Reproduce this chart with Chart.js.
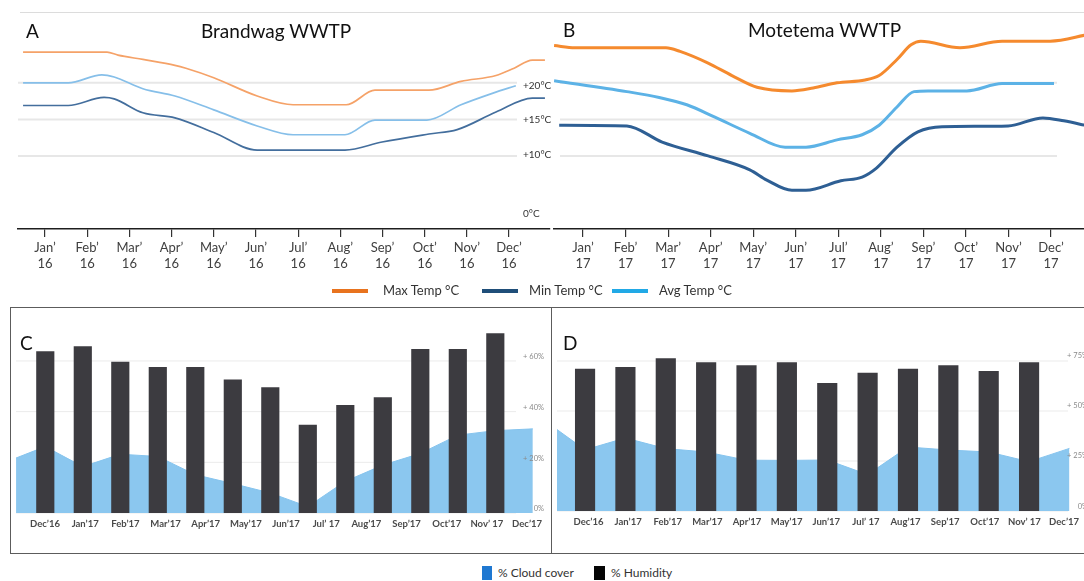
<!DOCTYPE html>
<html>
<head>
<meta charset="utf-8">
<title>WWTP climate 2016–2017</title>
<script src="https://cdn.jsdelivr.net/npm/chart.js@4.4.1/dist/chart.umd.min.js"></script>
<style>
  html, body { margin: 0; padding: 0; background: #fff; }
  #wrap { position: relative; width: 1084px; height: 581px; overflow: hidden;
          font-family: Lato, "Open Sans", sans-serif; color: #222; }
  #wrap canvas { position: absolute; }
  .abs { position: absolute; white-space: nowrap; line-height: 1; }
  .panel-id { font-size: 19px; color: #111; }
  .title { font-size: 19px; color: #111; }
  .leg { font-size: 13px; color: #333; }
  .leg2 { font-size: 12px; color: #333; }
  .box { position: absolute; border: 1px solid #5c5c5c; box-sizing: border-box; }
</style>
</head>
<body>
<div id="wrap">
  <div class="abs" style="left:20px;top:12px;width:1064px;height:1px;background:#dcdcdc"></div>

  <div class="box" style="left:10px;top:307px;width:542px;height:247px"></div>
  <div class="box" style="left:551px;top:307px;width:560px;height:247px"></div>

  <canvas id="chartA" width="560" height="300" style="left:0;top:0"></canvas>
  <canvas id="chartB" width="532" height="300" style="left:552px;top:0"></canvas>
  <canvas id="chartC" width="538" height="245" style="left:11px;top:308px"></canvas>
  <canvas id="chartD" width="532" height="245" style="left:552px;top:308px"></canvas>

  <div class="abs panel-id" style="left:26px;top:21px">A</div>
  <div class="abs title" style="left:201px;top:21px">Brandwag WWTP</div>
  <div class="abs panel-id" style="left:563px;top:20px">B</div>
  <div class="abs title" style="left:748px;top:20px">Motetema WWTP</div>
  <div class="abs panel-id" style="left:20px;top:333px">C</div>
  <div class="abs panel-id" style="left:563px;top:333px">D</div>

  <!-- temperature legend -->
  <div class="abs" style="left:332px;top:289px;width:36px;height:4px;background:#e8731e"></div>
  <div class="abs leg" style="left:383px;top:284px">Max Temp °C</div>
  <div class="abs" style="left:482px;top:289px;width:36px;height:4px;background:#1f4e79"></div>
  <div class="abs leg" style="left:529px;top:284px">Min Temp °C</div>
  <div class="abs" style="left:612px;top:289px;width:36px;height:4px;background:#21a9e6"></div>
  <div class="abs leg" style="left:659px;top:284px">Avg Temp °C</div>

  <!-- cloud / humidity legend -->
  <div class="abs" style="left:482px;top:566px;width:10px;height:14px;background:#1f78d1"></div>
  <div class="abs leg2" style="left:498px;top:567px">% Cloud cover</div>
  <div class="abs" style="left:594px;top:566px;width:11px;height:14px;background:#050505"></div>
  <div class="abs leg2" style="left:611px;top:567px">% Humidity</div>
</div>

<script>
// ---- month axis (temperature panels) ----
const MONTHS = ['Jan’', 'Feb’', 'Mar’', 'Apr’', 'May’', 'Jun’', 'Jul’', 'Aug’', 'Sep’', 'Oct’', 'Nov’', 'Dec’'];
const YEAR_BRANDWAG = '16';
const YEAR_MOTETEMA = '17';
const TEMP_TICKS = [0, 10, 15, 20];
const TEMP_TICK_LABELS = ['0°C', '+10°C', '+15°C', '+20°C'];

// ---- Brandwag 2016 temperatures: position in months (Jan = 1) and °C ----
const brandwagMaxAt = [0.48, 2.47, 2.73, 3.32, 4.08, 4.34, 5.0, 6.03, 6.88, 8.14, 8.82, 10.1, 10.86, 11.69, 12.12, 12.55, 12.85];
const brandwagMax   = [24.2, 24.2, 23.8, 23.2, 22.4, 22.0, 20.7, 18.2, 17.0, 17.0, 19.0, 19.0, 20.2, 21.0, 22.0, 23.1, 23.1];
const brandwagAvgAt = [0.48, 1.55, 2.35, 2.64, 3.32, 4.08, 5.0, 6.03, 6.88, 8.11, 8.82, 10.05, 10.86, 11.62, 12.16];
const brandwagAvg   = [20.0, 20.0, 21.1, 20.8, 19.2, 18.2, 16.3, 14.1, 12.9, 12.9, 14.9, 14.9, 17.0, 18.6, 19.6];
const brandwagMinAt = [0.48, 1.55, 2.40, 2.64, 3.32, 4.08, 5.0, 6.03, 8.11, 8.99, 10.1, 10.77, 11.69, 12.55, 12.85];
const brandwagMin   = [16.9, 16.9, 18.0, 17.8, 15.9, 15.2, 13.2, 10.8, 10.8, 11.9, 13.0, 13.6, 16.0, 17.9, 17.9];

// ---- Motetema 2017 temperatures ----
const motetemaMaxAt = [0.32, 0.81, 2.95, 3.28, 3.94, 4.5, 5.09, 5.91, 6.41, 6.97, 7.63, 7.96, 8.38, 8.71, 8.94, 9.86, 10.85, 11.98, 12.87];
const motetemaMax   = [25.1, 24.8, 24.8, 24.3, 22.7, 21.0, 19.4, 18.9, 19.3, 20.0, 20.4, 21.0, 23.2, 25.2, 25.7, 24.8, 25.7, 25.7, 26.6];
const motetemaAvgAt = [0.32, 2.03, 2.79, 3.44, 4.1, 4.92, 5.75, 6.24, 6.97, 7.56, 7.96, 8.38, 8.78, 9.11, 10.02, 10.85, 12.07];
const motetemaAvg   = [20.3, 18.8, 18.0, 17.0, 15.3, 13.1, 11.2, 11.2, 12.2, 12.9, 14.2, 16.7, 18.8, 18.9, 18.9, 19.9, 19.9];
const motetemaMinAt = [0.44, 2.03, 2.86, 3.94, 4.92, 5.32, 5.91, 6.24, 7.06, 7.56, 7.89, 8.38, 8.87, 9.44, 10.99, 11.81, 12.3, 12.87];
const motetemaMin   = [14.2, 14.1, 11.9, 10.0, 8.1, 6.7, 5.3, 5.3, 6.6, 7.1, 8.3, 11.2, 13.3, 14.0, 14.1, 15.2, 14.8, 14.1];

// ---- cloud cover / humidity, Dec 2016 – Dec 2017 ----
const CLOUD_LABELS = ['Dec’16', 'Jan’17', 'Feb’17', 'Mar’17', 'Apr’17', 'May’17', 'Jun’17', 'Jul’ 17', 'Aug’17', 'Sep’17', 'Oct’17', 'Nov’ 17', 'Dec’17'];
const brandwagHumidity = [63.7, 65.7, 59.6, 57.5, 57.5, 52.5, 49.5, 34.7, 42.5, 45.5, 64.6, 64.6, 70.8];
const brandwagCloudAt  = [-0.78, 0, 1, 2, 3, 4, 5, 6, 7, 8, 9, 10, 11, 12, 13];
const brandwagCloud    = [21.7, 26.2, 18.3, 23.2, 22.3, 15.1, 11.6, 7.9, 2.5, 12.5, 18.9, 23.5, 30.7, 32.5, 33.2];
const BRANDWAG_PCT_TICKS  = [0, 20, 40, 60];
const BRANDWAG_PCT_LABELS = ['0%', '+ 20%', '+ 40%', '+ 60%'];

const motetemaHumidity = [71.0, 71.8, 76.2, 74.2, 72.7, 74.2, 63.8, 69.0, 71.0, 72.7, 69.8, 74.2];
const motetemaCloudAt  = [-0.7, 0, 1, 2, 3, 4, 5, 6, 7, 8, 9, 10, 11, 12];
const motetemaCloud    = [40.8, 30.6, 36.5, 31.2, 29.5, 25.4, 25.3, 25.5, 18.2, 32.0, 30.5, 29.5, 24.65, 31.3];
const MOTETEMA_PCT_TICKS  = [0, 25, 50, 75];
const MOTETEMA_PCT_LABELS = ['0%', '+ 25%', '+ 50%', '+ 75%'];

const FONT = 'Lato, "Open Sans", sans-serif';
const pairs = (xs, ys) => xs.map((x, i) => ({ x, y: ys[i] }));

// Horizontal reference lines (behind the data) and their value labels (on top).
function guides(cfg) {
  return {
    id: 'guides',
    beforeDatasetsDraw(chart) {
      const { ctx } = chart, y = chart.scales.y;
      ctx.save();
      ctx.strokeStyle = cfg.lineColor;
      ctx.lineWidth = cfg.lineWidth;
      cfg.lineValues.forEach(v => {
        const py = y.getPixelForValue(v);
        ctx.beginPath(); ctx.moveTo(cfg.from, py); ctx.lineTo(cfg.to, py); ctx.stroke();
      });
      ctx.restore();
    },
    afterDatasetsDraw(chart) {
      if (!cfg.labels) return;
      const { ctx } = chart, y = chart.scales.y;
      ctx.save();
      ctx.font = cfg.font;
      ctx.fillStyle = cfg.textColor;
      ctx.textAlign = cfg.align;
      ctx.textBaseline = 'middle';
      cfg.labelValues.forEach((v, i) => {
        ctx.fillText(cfg.labels[i], cfg.x, y.getPixelForValue(v) + cfg.dy[i]);
      });
      ctx.restore();
    }
  };
}

function tempChart(id, year, series, opt) {
  return new Chart(document.getElementById(id), {
    type: 'line',
    data: {
      datasets: series.map(s => ({
        data: pairs(s.at, s.values),
        borderColor: s.color,
        borderWidth: opt.lineWidth,
        pointRadius: 0,
        cubicInterpolationMode: 'monotone',
        fill: false
      }))
    },
    options: {
      responsive: false, animation: false, events: [],
      layout: { autoPadding: false, padding: { left: opt.padLeft, right: opt.padRight, top: 20, bottom: 0 } },
      plugins: { legend: { display: false }, tooltip: { enabled: false } },
      scales: {
        x: {
          type: 'linear', min: opt.xMin, max: opt.xMax, offset: false,
          afterBuildTicks: s => { s.ticks = MONTHS.map((_, i) => ({ value: i + 1 })); },
          afterFit: s => { s.height = 71; },
          ticks: {
            autoSkip: false, maxRotation: 0, minRotation: 0, padding: 3, color: '#404040',
            font: { family: FONT, size: 13, lineHeight: 1.2 },
            callback: v => [MONTHS[v - 1], year]
          },
          grid: { display: true, offset: false, drawOnChartArea: false, drawTicks: true, tickLength: 8, color: '#333', lineWidth: 1.2 },
          border: { display: true, color: '#1e1e1e', width: 1.5 }
        },
        y: { type: 'linear', display: false, min: 0, max: 28.6 }
      }
    },
    plugins: [guides(opt.guides)]
  });
}

tempChart('chartA', YEAR_BRANDWAG, [
  { at: brandwagMaxAt, values: brandwagMax, color: '#f5a268' },
  { at: brandwagAvgAt, values: brandwagAvg, color: '#86bfe9' },
  { at: brandwagMinAt, values: brandwagMin, color: '#436e9d' }
], {
  lineWidth: 1.7, padLeft: 18, padRight: 10, xMin: 0.36, xMax: 12.97,
  guides: {
    lineValues: [10, 15, 20], from: 18, to: 517, lineColor: '#e7e7e7', lineWidth: 2,
    labels: TEMP_TICK_LABELS, labelValues: TEMP_TICKS, x: 523, align: 'left',
    dy: [-15, -1, 0, 3], font: '10px ' + FONT, textColor: '#333'
  }
});

tempChart('chartB', YEAR_MOTETEMA, [
  { at: motetemaMaxAt, values: motetemaMax, color: '#f58a2e' },
  { at: motetemaAvgAt, values: motetemaAvg, color: '#5cb2e6' },
  { at: motetemaMinAt, values: motetemaMin, color: '#2e5f94' }
], {
  lineWidth: 3, padLeft: 2, padRight: 0, xMin: 0.318, xMax: 12.775,
  guides: { lineValues: [10, 15, 20], from: 8, to: 505, lineColor: '#e7e7e7', lineWidth: 2 }
});

function cloudChart(id, humidity, cloudAt, cloud, opt) {
  return new Chart(document.getElementById(id), {
    type: 'bar',
    data: {
      datasets: [
        {
          type: 'bar', xAxisID: 'xb', order: 0,
          data: humidity.map((v, i) => ({ x: i, y: v })),
          backgroundColor: '#3c3b40', barThickness: opt.barWidth
        },
        {
          type: 'line', xAxisID: 'xb', order: 1,
          data: pairs(cloudAt, cloud),
          borderColor: '#86c4ee', borderWidth: 1, backgroundColor: '#8bc7ef',
          pointRadius: 0, tension: 0, fill: 'origin'
        }
      ]
    },
    options: {
      responsive: false, animation: false, events: [],
      layout: { autoPadding: false, padding: { left: 5, right: opt.padRight, top: 20, bottom: 0 } },
      plugins: { legend: { display: false }, tooltip: { enabled: false } },
      scales: {
        x: {
          type: 'linear', position: 'bottom', min: opt.labelMin, max: opt.labelMax, offset: false,
          afterBuildTicks: s => { s.ticks = CLOUD_LABELS.map((_, i) => ({ value: i })); },
          afterFit: s => { s.height = opt.axisHeight; },
          ticks: {
            autoSkip: false, maxRotation: 0, minRotation: 0, padding: 5, color: '#4a4a4a',
            font: { family: FONT, size: 9.5, weight: 'bold' },
            callback: v => CLOUD_LABELS[v]
          },
          grid: { display: false, drawTicks: false, offset: false },
          border: { display: false }
        },
        xb: { type: 'linear', display: false, min: opt.barMin, max: opt.barMax, offset: false, grid: { offset: false } },
        y: { type: 'linear', display: false, min: 0, max: opt.yMax }
      }
    },
    plugins: [guides(opt.guides)]
  });
}

cloudChart('chartC', brandwagHumidity, brandwagCloudAt, brandwagCloud, {
  barWidth: 17.5, padRight: 16, axisHeight: 40, yMax: 73,
  labelMin: -0.722, labelMax: 12.148, barMin: -0.781, barMax: 13.005,
  guides: {
    lineValues: BRANDWAG_PCT_TICKS, from: 5, to: 505, lineColor: '#ebebeb', lineWidth: 1,
    labels: BRANDWAG_PCT_LABELS, labelValues: BRANDWAG_PCT_TICKS, x: 533, align: 'right',
    dy: [-4, -4, -4, -4], font: '7.5px ' + FONT, textColor: '#8a8a8a'
  }
});

cloudChart('chartD', motetemaHumidity, motetemaCloudAt, motetemaCloud, {
  barWidth: 19.5, padRight: 0, axisHeight: 42, yMax: 91.5,
  labelMin: -0.795, labelMax: 12.298, barMin: -0.695, barMax: 12.159,
  guides: {
    lineValues: MOTETEMA_PCT_TICKS, from: 5, to: 516, lineColor: '#ebebeb', lineWidth: 1,
    labels: MOTETEMA_PCT_LABELS, labelValues: MOTETEMA_PCT_TICKS, x: 536, align: 'right',
    dy: [-4, -5, -5, -5], font: '7.5px ' + FONT, textColor: '#8a8a8a'
  }
});
</script>
</body>
</html>
